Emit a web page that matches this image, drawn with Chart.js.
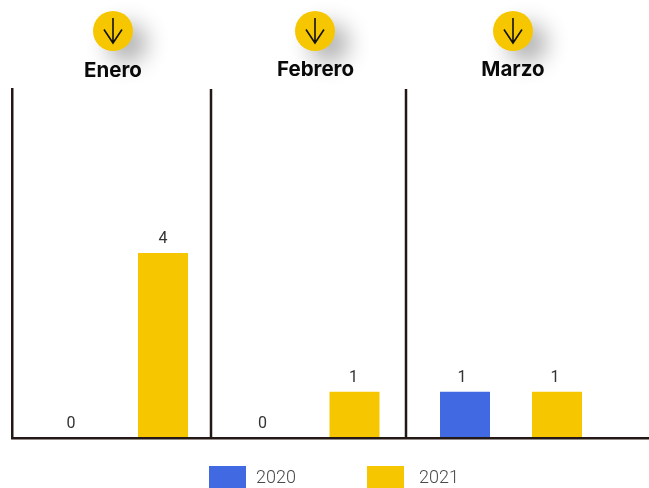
<!DOCTYPE html>
<html><head><meta charset="utf-8">
<style>html,body{margin:0;padding:0;background:#fff;overflow:hidden}#w{position:relative;width:649px;height:488px}</style>
<script src="https://cdn.jsdelivr.net/npm/chart.js@4/dist/chart.umd.js"></script>
</head><body><div id="w"><canvas id="c" width="649" height="488"></canvas></div>
<script>
const categories = ['Enero','Febrero','Marzo'];
const series2020 = [0,0,1];
const series2021 = [4,1,1];
const seriesNames = ['2020','2021'];

const BLUE='#4169e1', GOLD='#f6c700', INK='#231815';
const groupCentres=[117,308.5,511];
const separators=[211,406];
const headCentres=[[113,31,113,77],[315,31,315.5,75.5],[513,31,513,75.5]];
const labelNudge=[[0,0,-3],[0,-1,-2]];
const legendSlots=[[209,256],[367,419]];

class GroupScale extends Chart.CategoryScale{
  static id='group';
  static defaults=Chart.CategoryScale.defaults;
  getPixelForValue(v){
    const i=Math.round(typeof v==='number'?v:this.parse(v));
    return groupCentres[i];
  }
}
Chart.register(GroupScale);

const decor={
  id:'decor',
  afterDatasetsDraw(chart){
    const {ctx,chartArea:a}=chart;
    ctx.save();
    ctx.strokeStyle=INK;ctx.lineWidth=2.5;
    separators.forEach(x=>{ctx.beginPath();ctx.moveTo(x,a.top);ctx.lineTo(x,a.bottom);ctx.stroke();});
    ctx.font='400 16px Roboto';ctx.fillStyle='#333';ctx.textAlign='center';ctx.textBaseline='alphabetic';
    chart.data.datasets.forEach((d,di)=>{
      chart.getDatasetMeta(di).data.forEach((b,i)=>{
        ctx.fillText(String(d.data[i]),b.x+labelNudge[di][i],b.y-10);
      });
    });
    ctx.restore();
  },
  afterDraw(chart){
    const {ctx}=chart;
    categories.forEach((name,i)=>{
      const [cx,cy,tx,ty]=headCentres[i];
      ctx.save();
      ctx.shadowColor='rgba(0,0,0,0.3)';ctx.shadowBlur=22;ctx.shadowOffsetX=14;ctx.shadowOffsetY=12;
      ctx.fillStyle=GOLD;ctx.beginPath();ctx.arc(cx,cy,20,0,Math.PI*2);ctx.fill();
      ctx.restore();
      ctx.save();
      ctx.strokeStyle='#111';ctx.lineWidth=1.6;
      ctx.beginPath();ctx.moveTo(cx,cy-13);ctx.lineTo(cx,cy+12);ctx.moveTo(cx-9,cy-1.5);ctx.lineTo(cx,cy+12);ctx.lineTo(cx+9,cy-1.5);ctx.stroke();
      ctx.fillStyle='#0a0a0a';ctx.font='700 20.5px Inter';ctx.textAlign='center';ctx.textBaseline='alphabetic';
      ctx.fillText(name,tx,ty);
      ctx.restore();
    });
    chart.data.datasets.forEach((d,i)=>{
      const [bx,tx]=legendSlots[i];
      ctx.save();
      ctx.fillStyle=d.backgroundColor;ctx.fillRect(bx,466,37,22);
      ctx.fillStyle='#4a4a4a';ctx.font='300 18px Roboto';ctx.textAlign='left';ctx.textBaseline='alphabetic';
      ctx.fillText(d.label,tx,483);
      ctx.restore();
    });
  }
};

new Chart(document.getElementById('c'),{
  type:'bar',
  data:{labels:categories,datasets:[
    {label:seriesNames[0],data:series2020,backgroundColor:BLUE,borderWidth:0},
    {label:seriesNames[1],data:series2021,backgroundColor:GOLD,borderWidth:0}
  ]},
  options:{
    responsive:false,animation:false,
    layout:{padding:{top:89,left:12,right:0,bottom:50}},
    datasets:{bar:{categoryPercentage:184/191.5,barPercentage:50/92}},
    scales:{
      x:{type:'group',grid:{display:false,drawTicks:false},ticks:{display:false},border:{display:true,color:INK,width:2.5,z:1}},
      y:{min:0,max:7.55,grid:{display:false,drawTicks:false},ticks:{display:false},border:{display:true,color:INK,width:2.5,z:1}}
    },
    plugins:{tooltip:{enabled:false},legend:{display:false}}
  },
  plugins:[decor]
});
</script></body></html>
